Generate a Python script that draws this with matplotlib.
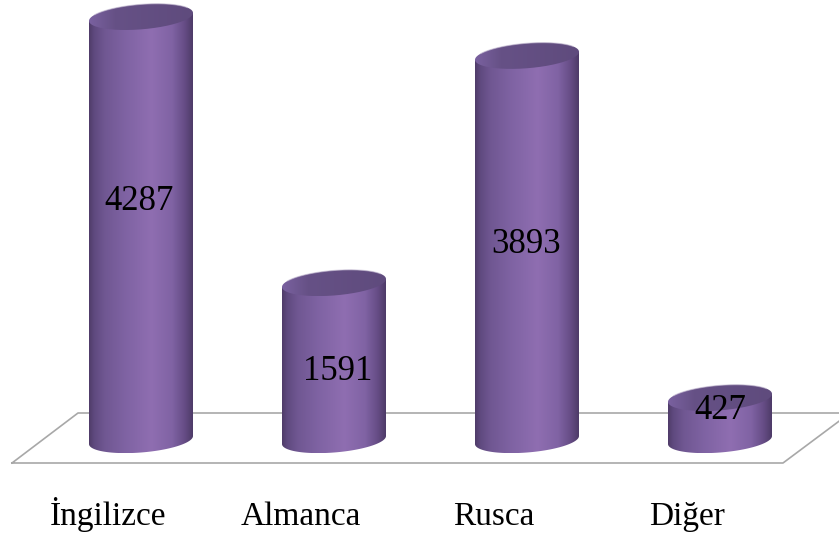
import numpy as np
import matplotlib
matplotlib.use("Agg")
import matplotlib.pyplot as plt
from matplotlib.colors import LinearSegmentedColormap
from matplotlib.patches import PathPatch
from matplotlib.path import Path

categories = ["İngilizce", "Almanca", "Rusca", "Diğer"]
values = [4287, 1591, 3893, 427]

plt.rcParams["font.family"] = ["Liberation Serif", "DejaVu Serif"]

W, H = 839, 538
BASE_Y = 440        # pixel row of value 0
PX_PER_UNIT = 0.0987
CENTERS = [141, 334, 527, 720]
RX, RY = 52.0, 12.5
SHEAR = 0.077       # rise of the ellipse towards its right end

body_cmap = LinearSegmentedColormap.from_list("body", [
    (0.0, "#4f3c69"), (0.05, "#5f4a7f"), (0.15, "#705792"), (0.35, "#7f63a3"),
    (0.6, "#8f6eb1"), (0.8, "#8063a4"), (0.92, "#664d86"), (1.0, "#4e3b68")])
lid_cmap = LinearSegmentedColormap.from_list("lid", [
    (0.0, "#7a61a0"), (0.25, "#665186"), (1.0, "#5f4b7d")])

fig = plt.figure(figsize=(W / 100, H / 100), dpi=100)
ax = fig.add_axes([0, 0, 1, 1])


def ellipse(cx, cy, t):
    # sheared ellipse in pixel rows, right side higher
    x = cx + RX * np.cos(t)
    y = cy - SHEAR * RX * np.cos(t) + RY * np.sin(t)
    return x, y


def to_value(row):
    return (BASE_Y - np.asarray(row)) / PX_PER_UNIT


def fill_gradient(verts, cmap, x0, x1, z):
    path = Path(np.array(verts))
    patch = PathPatch(path, fc="none", ec="none", transform=ax.transData)
    ax.add_patch(patch)
    ys = [v[1] for v in verts]
    grad = np.linspace(0, 1, 256).reshape(1, -1)
    im = ax.imshow(grad, cmap=cmap, extent=[x0, x1, min(ys), max(ys)],
                   aspect="auto", zorder=z, interpolation="bilinear")
    im.set_clip_path(patch)


def draw_cylinder(cx, value):
    top_row = BASE_Y - value * PX_PER_UNIT
    x0, x1 = cx - RX, cx + RX

    # lower arc, then straight up both sides
    bx, by = ellipse(cx, BASE_Y, np.linspace(0, np.pi, 120))
    sx, sy = ellipse(cx, top_row, np.array([np.pi, 0.0]))
    verts = list(zip(bx, to_value(by))) + list(zip(sx, to_value(sy)))
    verts.append(verts[0])
    fill_gradient(verts, body_cmap, x0, x1, 3)

    lx, ly = ellipse(cx, top_row, np.linspace(0, 2 * np.pi, 240))
    fill_gradient(list(zip(lx, to_value(ly))), lid_cmap, x0, x1, 4)

    # pale rim along the back of the lid
    rx, ry = ellipse(cx, top_row, np.linspace(1.15 * np.pi, 1.85 * np.pi, 80))
    ax.plot(rx, to_value(ry), color="#c4bad2", lw=0.8, alpha=0.6, zorder=4.5)


# floor outline behind the cylinders
floor_x = [12, 78, 850, 783, 12]
floor_y = [463, 413, 413, 463, 463]
ax.plot(floor_x, to_value(floor_y), color="#a8a8a8", lw=1.2, zorder=1)

for cx, v in zip(CENTERS, values):
    draw_cylinder(cx, v)

# value labels sit inside the cylinders, placed by baseline row
label_x = [139, 338, 526, 720]
label_base = [210, 380, 253, 419]
for lx, ly, v in zip(label_x, label_base, values):
    ax.text(lx, to_value(ly), str(v), ha="center", va="baseline",
            fontsize=25, color="black", zorder=5)

name_x = [108, 301, 494, 687]
for nx, name in zip(name_x, categories):
    ax.text(nx, to_value(525), name, ha="center", va="baseline",
            fontsize=24, color="black", zorder=5)

ax.set_xlim(0, W)
ax.set_ylim(to_value(H), to_value(0))
ax.axis("off")

fig.savefig("out.png", dpi=100, facecolor="white")
